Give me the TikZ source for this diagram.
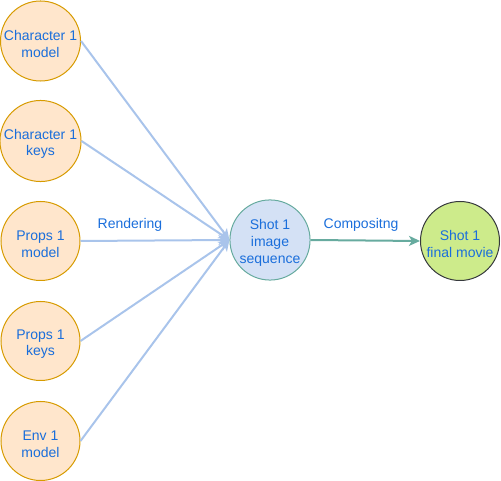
\documentclass[tikz,border=0pt]{standalone}
\usepackage{fontspec}
\setmainfont{Liberation Sans}
\usetikzlibrary{arrows.meta,positioning}
\definecolor{peach}{HTML}{FFE6CC}
\definecolor{amber}{HTML}{D79B00}
\definecolor{paleblue}{HTML}{D4E1F5}
\definecolor{skyline}{HTML}{A9C4EB}
\definecolor{seagreen}{HTML}{67AB9F}
\definecolor{lime}{HTML}{CDEB8B}
\definecolor{charcoal}{HTML}{36393D}
\definecolor{textblue}{HTML}{1A6EDB}
\newcommand\topstrut{\rule{0pt}{12pt}}

\begin{document}
\begin{tikzpicture}[x=0.75pt,y=-0.75pt,
        font=\fontsize{10.5}{12.5}\selectfont,
        ball/.style={circle,line width=0.75pt,inner sep=0pt,align=center,text=textblue},
        asset/.style={ball,draw=amber,fill=peach,minimum size=59.25pt},
        shot/.style={ball,draw=seagreen,fill=paleblue,minimum size=60pt},
        movie/.style={ball,draw=charcoal,fill=lime,minimum size=59.25pt},
        render/.style={-{Stealth[length=8.25pt,width=7.5pt,inset=2.2pt]},line width=1.5pt,draw=skyline},
        comp/.style={-{Stealth[length=8.25pt,width=7.5pt,inset=2.2pt]},line width=1.5pt,draw=seagreen},
        lbl/.style={text=textblue}
      ]
        \useasboundingbox (0,0) rectangle (501,481);
        \node[asset] (char1model) at (40.5,41) {\topstrut Character 1\\model};
        \node[asset] (char1keys) at (40.5,141) {\topstrut Character 1\\keys};
        \node[asset] (props1model) at (40.5,241) {\topstrut Props 1\\model};
        \node[asset] (props1keys) at (40.5,341) {\topstrut Props 1\\keys};
        \node[asset] (env1model) at (40.5,441) {\topstrut Env 1\\model};
        \node[shot] (shot1seq) at (270,240) {\topstrut Shot 1\\image\\sequence};
        \node[movie] (shot1movie) at (460,241) {\topstrut Shot 1\\final movie};
        \foreach \src in {char1model,char1keys,props1model,props1keys,env1model}
          \draw[render] (\src.east) -- (shot1seq.west);
        \draw[comp] (shot1seq.east) -- (shot1movie.west);
        \node[lbl] (rendering) at (130,225) {Rendering};
        \node[lbl] (compositng) at (361,225) {Compositng};
      \end{tikzpicture}
\end{document}
